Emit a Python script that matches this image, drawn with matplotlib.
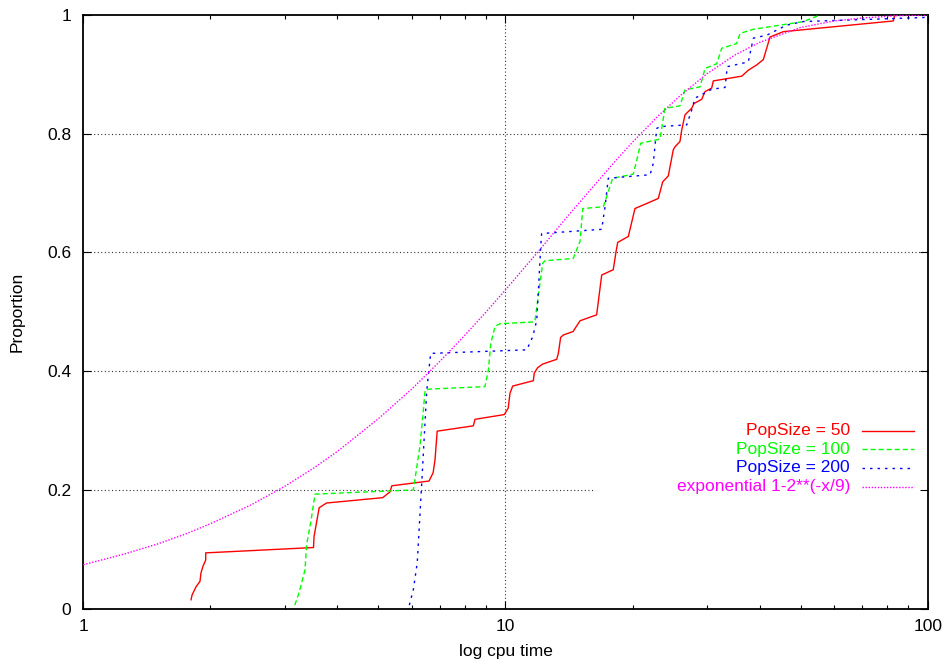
import matplotlib
matplotlib.use('Agg')
import matplotlib.pyplot as plt
from matplotlib.ticker import NullLocator, NullFormatter, LogLocator

plt.rcParams['font.family'] = ['Liberation Sans', 'DejaVu Sans']

# PopSize = 50 (red)
red_x = [1.80, 1.81, 1.85, 1.89, 1.90, 1.92, 1.95, 1.95, 3.51, 3.52, 3.56, 3.62, 3.77,
         5.12, 5.33, 5.38, 6.59, 6.74, 6.81, 6.89, 8.39, 8.47, 9.94, 10.15, 10.25, 10.40,
         11.64, 11.70, 11.92, 12.25, 13.22, 13.34, 13.51, 13.71, 14.47, 14.61, 15.02,
         16.44, 16.90, 18.00, 18.27, 18.44, 19.54, 20.26, 23.01, 23.57, 24.30, 24.97,
         25.20, 25.90, 26.14, 26.62, 27.61, 27.96, 29.16, 29.69, 30.79, 31.06, 36.27,
         37.59, 39.36, 40.80, 42.32, 45.50, 82.87, 83.66]
red_y = [0.015, 0.023, 0.037, 0.046, 0.060, 0.071, 0.082, 0.094, 0.103, 0.121, 0.141,
         0.170, 0.178, 0.187, 0.197, 0.207, 0.215, 0.229, 0.251, 0.299, 0.308, 0.319,
         0.327, 0.338, 0.363, 0.375, 0.384, 0.397, 0.406, 0.412, 0.420, 0.430, 0.457,
         0.461, 0.467, 0.472, 0.485, 0.495, 0.562, 0.571, 0.601, 0.617, 0.627, 0.674,
         0.691, 0.719, 0.729, 0.773, 0.778, 0.787, 0.806, 0.832, 0.843, 0.851, 0.858,
         0.871, 0.877, 0.889, 0.897, 0.907, 0.916, 0.925, 0.963, 0.972, 0.990, 1.0]

# PopSize = 100 (green)
green_x = [3.17, 3.23, 3.27, 3.35, 3.38, 3.46, 3.54, 6.05, 6.27, 6.37, 6.45, 6.63,
           8.94, 9.11, 9.23, 9.45, 9.71, 11.70, 11.75, 12.25, 12.40, 14.47, 15.02, 15.24,
           17.05, 17.94, 20.07, 20.45, 20.90, 23.22, 23.86, 25.90, 26.62, 28.89, 29.69,
           31.64, 32.52, 35.29, 35.93, 38.63, 50.74, 55.58]
green_y = [0.006, 0.023, 0.036, 0.065, 0.107, 0.147, 0.193, 0.200, 0.273, 0.323, 0.368,
           0.370, 0.374, 0.402, 0.447, 0.476, 0.480, 0.483, 0.486, 0.582, 0.586, 0.590,
           0.619, 0.674, 0.677, 0.725, 0.732, 0.755, 0.784, 0.791, 0.843, 0.847, 0.874,
           0.879, 0.910, 0.918, 0.944, 0.952, 0.969, 0.976, 0.989, 1.0]

# PopSize = 200 (blue)
blue_x = [5.92, 6.05, 6.18, 6.34, 6.51, 6.65, 11.23, 11.60, 11.86, 12.12, 12.18, 16.90,
          17.21, 17.52, 22.00, 22.39, 22.81, 23.22, 26.87, 27.61, 28.11, 30.79, 33.11,
          33.52, 37.59, 38.63, 41.56, 46.34, 50.74, 99.45]
blue_y = [0.006, 0.032, 0.077, 0.217, 0.368, 0.430, 0.436, 0.458, 0.486, 0.610, 0.632,
          0.639, 0.677, 0.725, 0.731, 0.750, 0.809, 0.812, 0.815, 0.840, 0.860, 0.875,
          0.878, 0.913, 0.921, 0.961, 0.966, 0.983, 0.989, 0.996]

# exponential 1-2**(-x/9), values
exp_x = [1, 1.25, 1.5, 1.75, 2, 2.5, 3, 3.5, 4, 5, 6, 7, 8, 9, 10, 12, 14, 16, 18, 20,
         23, 26, 30, 35, 40, 50, 60, 70, 85, 100]
exp_y = [0.074, 0.092, 0.109, 0.126, 0.143, 0.175, 0.206, 0.236, 0.265, 0.320, 0.370,
         0.417, 0.460, 0.500, 0.537, 0.603, 0.660, 0.708, 0.750, 0.786, 0.830, 0.865,
         0.901, 0.933, 0.954, 0.979, 0.990, 0.995, 0.999, 1.0]

labels = ['PopSize = 50', 'PopSize = 100', 'PopSize = 200', 'exponential 1-2**(-x/9)']
colors = ['#ff0000', '#00ff00', '#0000ff', '#ff00ff']
dashes = [None, (3.6, 2.2), (1.8, 3.6), (1.0, 1.2)]

fs = 12.5

fig = plt.figure(figsize=(9.45, 6.65), dpi=100)
ax = fig.add_axes([0.0881, 0.0847, 0.8936, 0.8927])

ax.set_xscale('log')
ax.set_xlim(1, 100)
ax.set_ylim(0, 1)

# grid (the 0.2 line is cut by the key box)
grid_kw = dict(color='#333333', lw=0.8, dashes=(1, 2.2), zorder=1)
ax.axhline(0.2, xmax=0.6036, **grid_kw)
for g in [0.4, 0.6, 0.8]:
    ax.axhline(g, **grid_kw)
ax.axvline(10, **grid_kw)

series = [(red_x, red_y), (green_x, green_y), (blue_x, blue_y), (exp_x, exp_y)]
for (xs, ys), c, d in zip(series, colors, dashes):
    line, = ax.plot(xs, ys, color=c, lw=1.0, zorder=3)
    if d is not None:
        line.set_dashes(d)

# key, gnuplot style: right aligned text then sample line
key_y = [0.2998, 0.2685, 0.2372, 0.2058]
for lab, c, d, ky in zip(labels, colors, dashes, key_y):
    ax.text(0.908, ky, lab, color=c, fontsize=fs, ha='right', va='center',
            transform=ax.transAxes)
    ln, = ax.plot([0.922, 0.984], [ky, ky], color=c, lw=1.0,
                  transform=ax.transAxes, clip_on=False)
    if d is not None:
        ln.set_dashes(d)

ax.set_xticks([1, 10, 100])
ax.set_xticklabels(['1', '10', '100'])
ax.xaxis.set_minor_locator(LogLocator(base=10, subs=range(2, 10)))
ax.xaxis.set_minor_formatter(NullFormatter())
ax.set_yticks([0, 0.2, 0.4, 0.6, 0.8, 1])
ax.set_yticklabels(['0', '0.2', '0.4', '0.6', '0.8', '1'])
ax.yaxis.set_minor_locator(NullLocator())

ax.tick_params(which='both', direction='in', top=True, right=True, width=0.8,
               labelsize=fs, color='black')
ax.tick_params(which='major', length=5.8)
ax.tick_params(which='minor', length=2.9)
ax.tick_params(axis='x', pad=7.5)
ax.tick_params(axis='y', pad=8.5)

for s in ax.spines.values():
    s.set_linewidth(1.3)

ax.set_xlabel('log cpu time', fontsize=fs, va='top')
ax.xaxis.set_label_coords(0.5, -0.059)
ax.set_ylabel('Proportion', fontsize=fs, va='center')
ax.yaxis.set_label_coords(-0.0785, 0.5)

fig.savefig('out.png', dpi=100)
